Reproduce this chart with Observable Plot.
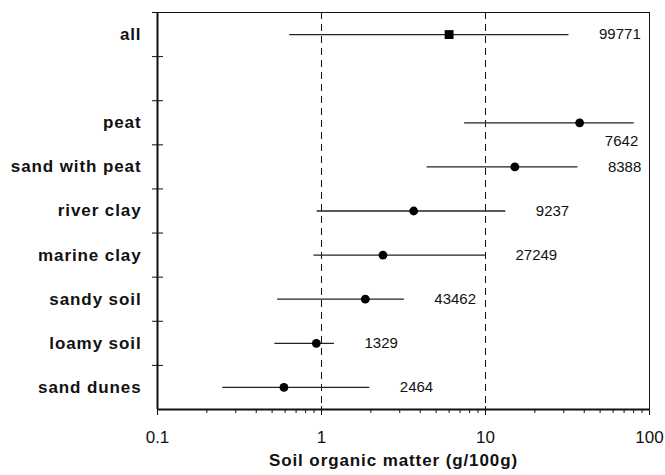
<!DOCTYPE html>
<html>
<head>
<meta charset="utf-8">
<script src="https://cdn.jsdelivr.net/npm/d3@7"></script>
<script src="https://cdn.jsdelivr.net/npm/@observablehq/plot@0.6"></script>
<style>
  html, body { margin: 0; padding: 0; background: #fff; }
  #chart svg { display: block; font-family: "Liberation Sans", Arial, sans-serif; }
</style>
</head>
<body>
<div id="chart"></div>
<script>
// Soil organic matter by soil type: median with spread, and number of samples
const categories = ["all", "peat", "sand with peat", "river clay", "marine clay", "sandy soil", "loamy soil", "sand dunes"];
const median = [6.0, 37.5, 15.1, 3.65, 2.37, 1.85, 0.93, 0.59];
const lower  = [0.64, 7.46, 4.4, 0.94, 0.90, 0.54, 0.52, 0.25];
const upper  = [32.3, 80.7, 36.6, 13.3, 10.0, 3.2, 1.2, 1.97];
const counts = [99771, 7642, 8388, 9237, 27249, 43462, 1329, 2464];
const xTicks = [0.1, 1, 10, 100];
const xTitle = "Soil organic matter (g/100g)";

// One empty row separates the overall summary from the soil types
const rowOf = (i) => (i === 0 ? 0 : i + 1);
const nRows = categories.length + 1;

const data = categories.map((name, i) => ({
  name,
  row: rowOf(i) + 0.5,
  median: median[i],
  lo: lower[i],
  hi: upper[i],
  n: counts[i],
  overall: i === 0
}));

const xDomain = [xTicks[0], xTicks[xTicks.length - 1]];
// a count label needs roughly half a decade of room to the right of its bar
const fitsRight = (d) => Math.log10(xDomain[1] / d.hi) > 0.35;

const minorTicks = [];
for (let k = 0; k < xTicks.length - 1; k++) {
  for (let m = 2; m <= 9; m++) minorTicks.push(+(xTicks[k] * m).toPrecision(3));
}
const boundaries = d3.range(0, nRows);

const ink = "#111";

const chart = Plot.plot({
  width: 665,
  height: 475,
  marginLeft: 157,
  marginRight: 16,
  marginTop: 12,
  marginBottom: 66,
  style: { fontFamily: "'Liberation Sans', Arial, sans-serif", color: ink, background: "#fff" },
  x: { type: "log", domain: xDomain },
  y: { domain: [nRows, 0] },
  marks: [
    Plot.frame({ stroke: ink, strokeWidth: 1 }),
    Plot.ruleX(xTicks.slice(1), { stroke: ink, strokeWidth: 1, strokeDasharray: "7,5" }),
    Plot.ruleX([xDomain[0]], { stroke: ink, strokeWidth: 2 }),
    Plot.ruleY([nRows], { stroke: ink, strokeWidth: 2 }),

    // category names at row centres
    Plot.axisY({
      ticks: data.map((d) => d.row),
      tickFormat: (v) => data.find((d) => d.row === v).name,
      tickSize: 0,
      tickPadding: 16,
      fontSize: 17,
      fontWeight: "bold",
      label: null
    }),
    // row separators crossing the left axis
    Plot.axisY({
      ticks: boundaries,
      tickFormat: () => "",
      tickSize: 11,
      dx: 6,
      label: null
    }),

    // log axis: decades with labels, minor ticks in between
    Plot.axisX({
      ticks: xTicks,
      tickFormat: (v) => String(v),
      tickSize: 9,
      dy: -3,
      tickPadding: 15,
      fontSize: 17,
      label: null
    }),
    Plot.axisX({
      ticks: minorTicks,
      tickFormat: () => "",
      tickSize: 4,
      label: null
    }),
    Plot.text([xTitle], {
      frameAnchor: "bottom",
      dx: -10,
      dy: 56,
      fontSize: 17,
      fontWeight: "bold"
    }),

    // spread and median per row
    Plot.ruleY(data, { y: "row", x1: "lo", x2: "hi", stroke: "#222", strokeWidth: 1.3 }),
    Plot.dot(data.filter((d) => !d.overall), { x: "median", y: "row", r: 4.4, fill: "#000", stroke: "none" }),
    Plot.dot(data.filter((d) => d.overall), { x: "median", y: "row", r: 5, symbol: "square", fill: "#000", stroke: "none" }),

    // number of samples
    Plot.text(data.filter(fitsRight), {
      x: "hi", y: "row", text: (d) => String(d.n),
      dx: 30, textAnchor: "start", fontSize: 15, fill: ink
    }),
    Plot.text(data.filter((d) => !fitsRight(d)), {
      x: "hi", y: "row", text: (d) => String(d.n),
      dx: 4, dy: 18, textAnchor: "end", fontSize: 15, fill: ink
    })
  ]
});

// the bold labels are set slightly spaced out
d3.select(chart)
  .selectAll('[font-weight="bold"] text, text[font-weight="bold"]')
  .style("letter-spacing", "0.9px");

document.getElementById("chart").append(chart);
</script>
</body>
</html>
